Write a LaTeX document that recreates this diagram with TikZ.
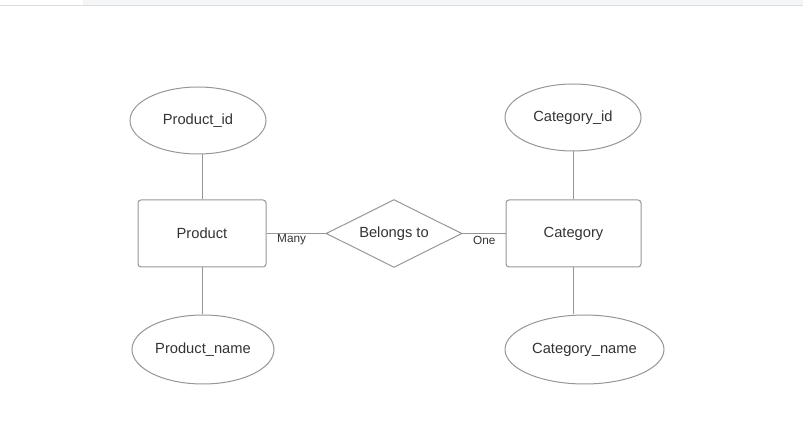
\documentclass[tikz,border=0pt]{standalone}
\usepackage{fontspec}
\setmainfont{Liberation Sans}
\usetikzlibrary{shapes.geometric}
\definecolor{linec}{RGB}{150,150,150}
\definecolor{txtc}{RGB}{51,51,51}
\definecolor{barc}{RGB}{244,245,247}
\definecolor{barline}{RGB}{222,222,222}
\begin{document}
\begin{tikzpicture}[x=1pt,y=-1pt,
  every node/.style={text=txtc, font=\fontsize{14.7}{17}\selectfont},
  attr/.style={ellipse, draw=linec, line width=1pt, inner sep=0pt},
  entity/.style={rectangle, draw=linec, line width=1pt, rounded corners=3pt, inner sep=0pt},
  rel/.style={rectangle, inner sep=0pt, minimum width=135pt, minimum height=67pt},
  conn/.style={draw=linec, line width=1pt},
  card/.style={font=\fontsize{11.8}{14}\selectfont, inner sep=0pt}]
\useasboundingbox (0,0) rectangle (803,427);
\fill[barc] (83,0) rectangle (803,5);
\draw[barline, line width=1pt] (0,5.5) -- (803,5.5);

\node[attr, minimum width=136pt, minimum height=67pt] (pid) at (198,120.5) {Product\_id};
\node[entity, minimum width=128pt, minimum height=67pt] (prod) at (202,233.5) {Product};
\node[attr, minimum width=142pt, minimum height=69pt] (pname) at (203,349.5) {Product\_name};

\node[rel] (bel) at (394,233.5) {Belongs to};
\draw[conn, line join=miter] (bel.west) -- (bel.north) -- (bel.east) -- (bel.south) -- cycle;

\node[attr, minimum width=136pt, minimum height=67pt] (cid) at (573,117.5) {Category\_id};
\node[entity, minimum width=135pt, minimum height=67pt] (cat) at (573.5,233.5) {Category};
\node[attr, minimum width=159pt, minimum height=69pt] (cname) at (584.5,349.5) {Category\_name};

\draw[conn] (pid.south -| prod.north) -- (prod.north);
\draw[conn] (prod.south) -- (prod.south |- pname.north);
\draw[conn] (cid.south -| cat.north) -- (cat.north);
\draw[conn] (cat.south) -- (cat.south |- cname.north);
\draw[conn] (prod.east) -- (bel.west);
\draw[conn] (bel.east) -- (cat.west);

\node[card, anchor=west] (many) at (277,240) {Many};
\node[card, anchor=west] (one) at (473,240) {One};
\end{tikzpicture}
\end{document}
